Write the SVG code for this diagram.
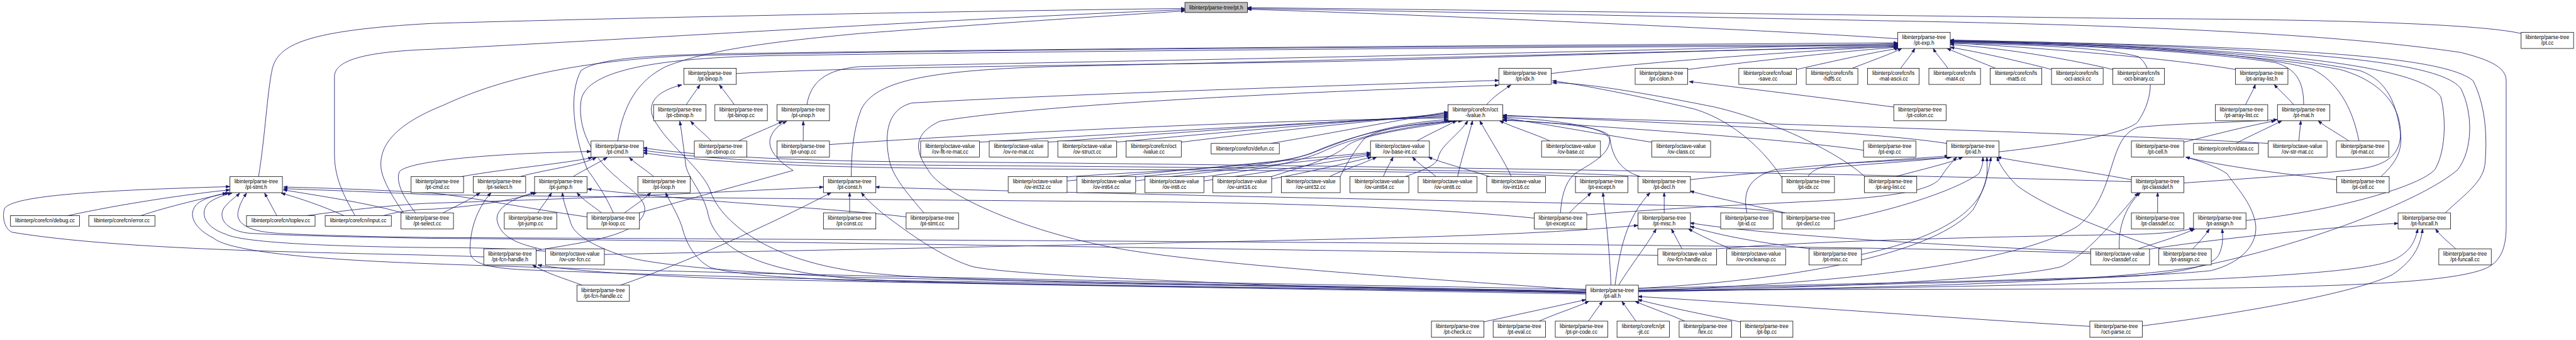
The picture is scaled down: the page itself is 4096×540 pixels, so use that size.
<svg xmlns="http://www.w3.org/2000/svg" width="4096" height="540" viewBox="0 0 4096 540">
<style>
.n rect{fill:#fff;stroke:#000;stroke-width:1.2}
.g rect{fill:#bfbfbf}
text{font-family:"Liberation Sans",Arial,Helvetica,sans-serif;font-size:13px;text-anchor:middle;fill:#000}
.e path{fill:none;stroke:#191970;stroke-width:1.3;marker-end:url(#a)}
</style>
<defs>
<marker id="a" markerUnits="userSpaceOnUse" markerWidth="11" markerHeight="8" refX="10" refY="4" orient="auto" viewBox="0 0 11 8"><path d="M0,0.5 L10,4 L0,7.5 z" fill="#191970" stroke="#191970" stroke-width="1"/></marker>
</defs>
<rect width="4096" height="540" fill="#fff"/>
<g transform="scale(0.6415)">
<g id="edges" class="e">
<path d="M641,437 C658,330 662,230 675,170 C690,110 760,75 1070,58 C1700,40 2500,26 2937,21"/>
<path d="M880,534 C850,480 829,440 829,380 L829,190 C829,150 900,128 1070,122 C1600,95 2400,45 2937,24"/>
<path d="M1531,349 C1545,260 1580,200 1650,165 C1760,120 1950,100 2130,83 C2500,55 2800,36 2937,27"/>
<path d="M4704,96 C4400,75 3500,35 3092,23"/>
<path d="M6249,83 C6150,60 5800,48 5300,46 C4500,36 3600,24 3092,19"/>
<path d="M4060,718 C4700,716 5100,716 5300,715 C5800,712 6100,700 6170,660 C6205,640 6212,600 6212,560 L6212,200 C6212,170 6180,150 6100,130 C5800,85 5300,62 4700,52 C4000,38 3400,26 3092,21"/>
<path d="M1824,182 C2200,162 3000,160 3400,150 C3900,136 4400,122 4704,112"/>
<path d="M2000,259 C2010,200 2050,172 2130,165 C2700,152 3500,140 4704,108"/>
<path d="M3845,182 C4100,150 4500,125 4704,114"/>
<path d="M4183,172 C4400,145 4600,124 4704,117"/>
<path d="M4453,172 C4550,150 4650,128 4706,120"/>
<path d="M4591,169 C4640,150 4690,132 4714,120"/>
<path d="M4711,169 C4725,150 4738,135 4746,120"/>
<path d="M4828,169 C4815,150 4800,135 4792,120"/>
<path d="M4946,169 C4900,150 4850,130 4826,120"/>
<path d="M5085,172 C5000,150 4900,128 4834,117"/>
<path d="M5237,172 C5100,140 4950,118 4834,110"/>
<path d="M5541,172 C5350,140 5000,115 4834,106"/>
<path d="M5710,259 C5710,200 5690,170 5640,155 C5450,125 5100,110 4834,104"/>
<path d="M5847,349 C5830,260 5790,200 5730,170 C5550,125 5200,108 4834,102"/>
<path d="M6061,527 C6110,480 6158,450 6160,400 C6165,330 6160,260 6130,200 C6060,140 5700,115 4834,100"/>
<path d="M5566,546 C5800,520 6000,460 6035,420 C6060,380 6065,300 6050,240 C6000,160 5600,115 4834,101"/>
<path d="M4060,722 C4700,712 5200,700 5450,660 C5700,610 6000,500 6092,420 C6130,370 6130,280 6100,220 C6050,150 5700,118 4834,99"/>
<path d="M5902,437 C5930,410 5957,380 5950,330 C5940,260 5920,200 5850,175 C5600,125 5200,108 4834,103"/>
<path d="M4954,376 C5100,360 5280,330 5300,300 C5340,240 5340,170 5300,140 C5200,115 5000,110 4834,107"/>
<path d="M2110,437 C2110,380 2115,320 2135,270 C2170,200 2300,175 2600,165 C3300,150 4200,125 4704,116"/>
<path d="M1000,527 C975,490 950,450 945,420 C935,350 1000,300 1100,260 C1250,190 1450,150 1700,138 C2500,120 3800,115 4704,110"/>
<path d="M1520,527 C1500,480 1470,440 1456,420 C1420,330 1410,230 1440,175 C1480,145 1600,137 1800,133 C2600,120 3800,112 4704,106"/>
<path d="M1328,620 C1450,600 1560,585 1590,540 C1620,500 1560,470 1530,440 C1480,400 1430,330 1440,250 C1450,180 1600,145 1900,138 C2800,124 3900,116 4704,113"/>
<path d="M1701,259 C1710,245 1725,225 1735,210"/>
<path d="M1820,259 C1810,245 1795,225 1783,210"/>
<path d="M3931,724 C3400,705 2400,700 2200,680 C1900,660 1780,540 1760,470 C1740,420 1660,360 1630,310 C1600,270 1610,230 1690,210"/>
<path d="M3931,726 C3400,712 2400,706 2150,692 C1850,675 1770,600 1755,530 C1745,480 1705,440 1700,410 C1695,370 1690,330 1685,300"/>
<path d="M1831,349 C1870,330 1910,315 1940,300"/>
<path d="M1991,349 L1991,300"/>
<path d="M1584,527 L1966,422 C1930,400 1900,370 1910,340 C1918,320 1930,310 1950,300"/>
<path d="M1763,349 C1745,330 1725,315 1712,300"/>
<path d="M1145,437 C1250,418 1400,405 1468,390"/>
<path d="M1290,437 C1350,420 1440,410 1478,390"/>
<path d="M1421,437 C1440,425 1480,405 1505,390"/>
<path d="M1620,437 C1600,420 1575,405 1560,390"/>
<path d="M3910,437 C3600,420 2500,420 2200,415 C1900,410 1700,395 1594,378"/>
<path d="M4065,437 C3800,418 2600,412 2200,408 C1900,404 1700,388 1594,372"/>
<path d="M5283,450 C4700,430 3000,405 2200,400 C1900,396 1700,382 1594,366"/>
<path d="M1030,527 C1000,490 980,450 990,425 C1010,400 1200,380 1465,375"/>
<path d="M168,534 C300,505 470,480 570,470"/>
<path d="M349,534 C420,510 510,490 568,477"/>
<path d="M686,534 L656,478"/>
<path d="M853,534 C800,510 740,490 697,478"/>
<path d="M998,527 C900,500 790,485 702,470"/>
<path d="M1199,636 C1150,634 1100,633 1070,632 C800,625 300,620 30,575 C8,565 5,530 12,515 C40,480 300,470 570,462"/>
<path d="M1352,622 C1250,614 1150,613 1070,613 C800,610 600,600 560,580 C500,560 495,520 520,500 C540,487 560,482 575,478"/>
<path d="M3931,716 C3000,700 1800,680 1070,653 C700,640 560,615 530,590 C470,560 465,520 495,500 C515,488 540,482 562,478"/>
<path d="M4109,632 C3200,620 1800,595 1070,590 C800,586 650,580 614,577 C560,570 540,540 555,515 C570,495 585,488 594,478"/>
<path d="M5182,628 C4700,605 2500,595 1070,588 C850,585 720,580 682,577 C610,572 585,550 590,525 C594,505 603,490 611,478"/>
<path d="M1455,537 C1300,515 1150,485 1070,478 C900,468 780,465 703,463"/>
<path d="M3803,540 C3600,520 3300,505 2900,500 C2200,495 1300,485 1070,482 C900,474 780,470 703,467"/>
<path d="M1098,527 C1130,510 1165,495 1190,477"/>
<path d="M3931,720 C3000,705 2300,697 2130,693 C1800,685 1500,676 1300,668 C1200,663 1165,650 1165,620 C1165,570 1180,520 1217,477"/>
<path d="M1333,527 C1343,510 1357,495 1367,477"/>
<path d="M1491,527 C1470,510 1445,495 1430,477"/>
<path d="M3931,722 C3000,708 2300,690 2130,687 C1900,678 1620,660 1540,632 C1480,612 1425,585 1415,553 C1405,520 1396,500 1394,477"/>
<path d="M2246,537 C2150,525 2000,515 1800,500 C1650,488 1520,475 1456,468"/>
<path d="M1342,617 C1290,605 1240,590 1232,545 C1228,515 1270,492 1325,476"/>
<path d="M950,534 C1000,520 1040,518 1070,518 C1200,510 1290,490 1330,477"/>
<path d="M1548,527 C1570,510 1595,495 1613,477"/>
<path d="M3931,724 C3000,712 2300,700 2130,695 C1950,688 1820,680 1760,662 C1720,640 1700,600 1690,560 C1675,520 1660,500 1650,477"/>
<path d="M760,534 C860,520 1000,505 1070,503 C1500,490 1800,475 2041,463"/>
<path d="M1538,706 C1700,650 1900,560 2060,477"/>
<path d="M2106,527 L2106,477"/>
<path d="M3931,724 C3600,718 3300,712 3190,707 C2900,695 2500,680 2410,660 C2330,635 2250,575 2190,530 C2160,505 2145,490 2135,477"/>
<path d="M4420,527 C4350,515 4250,513 4200,510 C3800,500 3200,490 2900,482 C2600,475 2300,468 2170,463"/>
<path d="M1443,706 C1400,690 1350,675 1320,656"/>
<path d="M3931,728 C3200,715 2200,700 1800,690 C1550,680 1420,670 1333,656"/>
<path d="M3677,797 C3780,775 3870,755 3931,742"/>
<path d="M3815,795 C3860,775 3910,760 3938,746"/>
<path d="M3937,795 L3972,746"/>
<path d="M4055,795 L4020,746"/>
<path d="M4176,795 C4130,775 4085,760 4053,746"/>
<path d="M4314,797 C4220,778 4130,760 4060,742"/>
<path d="M5180,808 C4800,785 4400,755 4060,734"/>
<path d="M5308,807 C5600,770 5850,720 5930,680 C5990,640 6000,600 6005,567"/>
<path d="M3993,706 C3990,620 3980,540 3973,477"/>
<path d="M4003,706 C4015,620 4030,540 4090,477"/>
<path d="M4012,706 C4040,660 4080,610 4105,567"/>
<path d="M4125,527 L4125,477"/>
<path d="M4169,616 L4143,567"/>
<path d="M4488,616 C4350,600 4250,580 4189,560"/>
<path d="M1497,630 C2000,620 3000,600 3400,590 C3800,580 3950,568 4060,558"/>
<path d="M5182,624 C4800,605 4400,585 4189,552"/>
<path d="M4290,616 C4250,600 4220,585 4185,567"/>
<path d="M4425,527 C4330,505 4250,490 4189,473"/>
<path d="M3890,527 C3905,510 3925,495 3944,477"/>
<path d="M4189,445 C4400,420 4700,405 4835,389"/>
<path d="M4065,437 C4010,420 3995,380 3990,340 C3985,310 3800,300 3725,298"/>
<path d="M4330,527 C4320,480 4330,440 4400,420 C4600,400 4760,392 4830,386"/>
<path d="M4482,437 C4490,420 4520,410 4560,405 C4700,398 4800,392 4838,389"/>
<path d="M4700,437 C4760,420 4830,405 4865,389"/>
<path d="M4614,630 C4850,580 4920,500 4925,430 C4926,410 4925,400 4925,389"/>
<path d="M3932,532 C4100,518 4300,508 4500,498 C4700,488 4790,470 4810,440 C4825,415 4840,400 4850,389"/>
<path d="M5283,445 C5150,420 5000,400 4950,389"/>
<path d="M4060,714 C4500,690 4800,620 4890,520 C4920,470 4930,420 4935,389"/>
<path d="M4547,548 C4700,520 4850,470 4905,430 C4915,410 4915,400 4915,389"/>
<path d="M5355,616 C5250,580 5080,520 5000,460 C4970,430 4955,405 4950,389"/>
<path d="M4825,355 C4600,320 4000,300 3725,285"/>
<path d="M3685,259 C3700,240 3725,225 3745,210"/>
<path d="M2428,352 C2800,330 3300,300 3589,289"/>
<path d="M2598,352 C2900,330 3300,300 3589,286"/>
<path d="M2767,352 C3000,330 3350,300 3589,283"/>
<path d="M2928,352 C3100,330 3400,300 3589,280"/>
<path d="M3150,355 C3300,330 3450,300 3589,277"/>
<path d="M2055,358 C2300,340 3000,300 3589,292"/>
<path d="M3512,349 C3545,330 3580,315 3610,299"/>
<path d="M3842,349 C3800,330 3750,315 3717,299"/>
<path d="M4094,352 C3950,330 3820,305 3725,292"/>
<path d="M2644,438 C2900,420 3150,415 3250,380 C3350,340 3450,305 3589,296"/>
<path d="M2813,438 C3000,422 3180,410 3260,375 C3350,335 3470,308 3592,299"/>
<path d="M2983,438 C3120,420 3230,400 3290,370 C3380,330 3520,310 3600,299"/>
<path d="M3152,437 C3220,415 3300,395 3340,360 C3380,330 3540,312 3612,299"/>
<path d="M3322,437 C3340,400 3360,370 3380,345 C3420,310 3560,305 3625,299"/>
<path d="M3484,437 C3530,420 3560,410 3565,390 C3570,360 3620,330 3638,299"/>
<path d="M3613,437 C3620,400 3640,340 3650,299"/>
<path d="M3746,437 C3730,400 3690,340 3668,299"/>
<path d="M2644,448 C2900,425 3200,395 3397,378"/>
<path d="M2813,448 C3000,425 3250,398 3397,381"/>
<path d="M2983,448 C3150,425 3300,400 3397,384"/>
<path d="M3152,443 C3250,425 3340,403 3400,389"/>
<path d="M3296,437 C3330,420 3380,405 3412,389"/>
<path d="M3429,437 C3435,420 3445,405 3453,389"/>
<path d="M3559,437 C3540,420 3515,405 3501,389"/>
<path d="M3692,437 C3640,420 3580,405 3540,389"/>
<path d="M4619,372 C4400,340 3900,310 3725,296"/>
<path d="M3868,527 C3870,490 3878,455 3900,433 C3930,410 3985,390 3990,350 C3993,320 3900,300 3725,290"/>
<path d="M5622,355 C5200,330 4200,300 3725,287"/>
<path d="M4694,265 C4500,240 4300,215 4187,202"/>
<path d="M2290,527 C2250,480 2215,440 2205,400 C2190,330 2200,270 2260,255 C2600,235 3300,212 3715,199"/>
<path d="M3931,718 C3600,695 3050,660 2800,620 C2550,580 2330,480 2300,420 C2265,370 2265,330 2330,300 C2600,255 3300,225 3715,211"/>
<path d="M4420,445 C4380,380 4300,300 4200,270 C4050,235 3920,210 3848,200"/>
<path d="M4622,437 C4560,380 4400,300 4250,265 C4050,225 3920,205 3848,205"/>
<path d="M5566,259 C5575,240 5585,225 5590,209"/>
<path d="M5685,259 C5670,240 5650,225 5637,209"/>
<path d="M5413,352 C5500,330 5580,310 5640,299"/>
<path d="M5542,355 C5580,335 5625,315 5656,299"/>
<path d="M5698,349 L5703,299"/>
<path d="M5822,349 C5795,330 5765,315 5746,299"/>
<path d="M4060,720 C4600,700 5000,650 5150,560 C5250,480 5220,340 5300,315 C5400,305 5550,303 5645,296"/>
<path d="M5792,445 C5650,430 5500,410 5418,389"/>
<path d="M4060,714 C4700,700 5300,690 5480,670 C5560,650 5600,600 5590,550 C5580,500 5540,460 5520,430 C5490,410 5450,398 5418,389"/>
<path d="M5348,527 L5348,477"/>
<path d="M5253,616 C5250,560 5270,510 5305,477"/>
<path d="M4060,720 C4500,715 5000,690 5110,660 C5170,630 5230,560 5300,477"/>
<path d="M5413,453 C5600,440 5780,428 5850,418 C5920,408 5950,380 5950,330 C5950,260 5900,200 5800,172 C5550,125 5100,108 4834,104"/>
<path d="M5435,616 C5450,600 5465,585 5476,567"/>
<path d="M5300,616 C5350,600 5400,585 5440,567"/>
<path d="M4060,718 C4600,705 5100,695 5300,683 C5450,670 5490,650 5500,630 C5510,610 5510,590 5508,567"/>
<path d="M4255,616 C4500,595 5000,585 5300,580 C5370,578 5410,572 5437,565"/>
<path d="M6087,616 C6070,600 6050,585 6037,567"/>
<path d="M5327,617 C5500,590 5800,560 5944,553"/>
<path d="M4060,722 C4700,712 5200,705 5500,690 C5800,675 5900,660 5940,640 C5975,620 5985,600 5993,567"/>
</g>
<g id="pt-h" class="n g"><rect x="2937" y="6" width="155" height="25"/><text x="3014.5" y="23">libinterp/parse-tree/pt.h</text></g>
<g id="pt-exp-h" class="n"><rect x="4704" y="80" width="130" height="40"/><text x="4769" y="97">libinterp/parse-tree</text><text x="4769" y="111">/pt-exp.h</text></g>
<g id="pt-cc" class="n"><rect x="6249" y="80" width="130" height="40"/><text x="6314" y="97">libinterp/parse-tree</text><text x="6314" y="111">/pt.cc</text></g>
<g id="pt-binop-h" class="n"><rect x="1695" y="169" width="130" height="40"/><text x="1760" y="186">libinterp/parse-tree</text><text x="1760" y="200">/pt-binop.h</text></g>
<g id="pt-idx-h" class="n"><rect x="3715" y="169" width="130" height="40"/><text x="3780" y="186">libinterp/parse-tree</text><text x="3780" y="200">/pt-idx.h</text></g>
<g id="pt-colon-h" class="n"><rect x="4053" y="169" width="130" height="40"/><text x="4118" y="186">libinterp/parse-tree</text><text x="4118" y="200">/pt-colon.h</text></g>
<g id="load-save-cc" class="n"><rect x="4310" y="169" width="143" height="40"/><text x="4381.5" y="186">libinterp/corefcn/load</text><text x="4381.5" y="200">-save.cc</text></g>
<g id="ls-hdf5-cc" class="n"><rect x="4477" y="169" width="128" height="40"/><text x="4541" y="186">libinterp/corefcn/ls</text><text x="4541" y="200">-hdf5.cc</text></g>
<g id="ls-mat-ascii-cc" class="n"><rect x="4629" y="169" width="128" height="40"/><text x="4693" y="186">libinterp/corefcn/ls</text><text x="4693" y="200">-mat-ascii.cc</text></g>
<g id="ls-mat4-cc" class="n"><rect x="4781" y="169" width="128" height="40"/><text x="4845" y="186">libinterp/corefcn/ls</text><text x="4845" y="200">-mat4.cc</text></g>
<g id="ls-mat5-cc" class="n"><rect x="4933" y="169" width="128" height="40"/><text x="4997" y="186">libinterp/corefcn/ls</text><text x="4997" y="200">-mat5.cc</text></g>
<g id="ls-oct-ascii-cc" class="n"><rect x="5085" y="169" width="128" height="40"/><text x="5149" y="186">libinterp/corefcn/ls</text><text x="5149" y="200">-oct-ascii.cc</text></g>
<g id="ls-oct-binary-cc" class="n"><rect x="5237" y="169" width="128" height="40"/><text x="5301" y="186">libinterp/corefcn/ls</text><text x="5301" y="200">-oct-binary.cc</text></g>
<g id="pt-array-list-h" class="n"><rect x="5541" y="169" width="130" height="40"/><text x="5606" y="186">libinterp/parse-tree</text><text x="5606" y="200">/pt-array-list.h</text></g>
<g id="pt-cbinop-h" class="n"><rect x="1620" y="259" width="130" height="40"/><text x="1685" y="276">libinterp/parse-tree</text><text x="1685" y="290">/pt-cbinop.h</text></g>
<g id="pt-binop-cc" class="n"><rect x="1772" y="259" width="130" height="40"/><text x="1837" y="276">libinterp/parse-tree</text><text x="1837" y="290">/pt-binop.cc</text></g>
<g id="pt-unop-h" class="n"><rect x="1926" y="259" width="130" height="40"/><text x="1991" y="276">libinterp/parse-tree</text><text x="1991" y="290">/pt-unop.h</text></g>
<g id="oct-lvalue-h" class="n"><rect x="3589" y="259" width="136" height="40"/><text x="3657" y="276">libinterp/corefcn/oct</text><text x="3657" y="290">-lvalue.h</text></g>
<g id="pt-colon-cc" class="n"><rect x="4694" y="259" width="130" height="40"/><text x="4759" y="276">libinterp/parse-tree</text><text x="4759" y="290">/pt-colon.cc</text></g>
<g id="pt-array-list-cc" class="n"><rect x="5491" y="259" width="130" height="40"/><text x="5556" y="276">libinterp/parse-tree</text><text x="5556" y="290">/pt-array-list.cc</text></g>
<g id="pt-mat-h" class="n"><rect x="5645" y="259" width="130" height="40"/><text x="5710" y="276">libinterp/parse-tree</text><text x="5710" y="290">/pt-mat.h</text></g>
<g id="pt-cmd-h" class="n"><rect x="1465" y="349" width="130" height="40"/><text x="1530" y="366">libinterp/parse-tree</text><text x="1530" y="380">/pt-cmd.h</text></g>
<g id="pt-cbinop-cc" class="n"><rect x="1721" y="349" width="130" height="40"/><text x="1786" y="366">libinterp/parse-tree</text><text x="1786" y="380">/pt-cbinop.cc</text></g>
<g id="pt-unop-cc" class="n"><rect x="1926" y="349" width="130" height="40"/><text x="1991" y="366">libinterp/parse-tree</text><text x="1991" y="380">/pt-unop.cc</text></g>
<g id="ov-flt-re-mat-cc" class="n"><rect x="2282" y="349" width="146" height="40"/><text x="2355" y="366">libinterp/octave-value</text><text x="2355" y="380">/ov-flt-re-mat.cc</text></g>
<g id="ov-re-mat-cc" class="n"><rect x="2452" y="349" width="146" height="40"/><text x="2525" y="366">libinterp/octave-value</text><text x="2525" y="380">/ov-re-mat.cc</text></g>
<g id="ov-struct-cc" class="n"><rect x="2622" y="349" width="146" height="40"/><text x="2695" y="366">libinterp/octave-value</text><text x="2695" y="380">/ov-struct.cc</text></g>
<g id="oct-lvalue-cc" class="n"><rect x="2791" y="349" width="137" height="40"/><text x="2859.5" y="366">libinterp/corefcn/oct</text><text x="2859.5" y="380">-lvalue.cc</text></g>
<g id="defun-cc" class="n"><rect x="3002" y="355" width="169" height="26"/><text x="3086.5" y="372">libinterp/corefcn/defun.cc</text></g>
<g id="ov-base-int-cc" class="n"><rect x="3397" y="349" width="146" height="40"/><text x="3470" y="366">libinterp/octave-value</text><text x="3470" y="380">/ov-base-int.cc</text></g>
<g id="ov-base-cc" class="n"><rect x="3821" y="349" width="146" height="40"/><text x="3894" y="366">libinterp/octave-value</text><text x="3894" y="380">/ov-base.cc</text></g>
<g id="ov-class-cc" class="n"><rect x="4094" y="349" width="146" height="40"/><text x="4167" y="366">libinterp/octave-value</text><text x="4167" y="380">/ov-class.cc</text></g>
<g id="pt-exp-cc" class="n"><rect x="4619" y="349" width="130" height="40"/><text x="4684" y="366">libinterp/parse-tree</text><text x="4684" y="380">/pt-exp.cc</text></g>
<g id="pt-id-h" class="n"><rect x="4825" y="349" width="130" height="40"/><text x="4890" y="366">libinterp/parse-tree</text><text x="4890" y="380">/pt-id.h</text></g>
<g id="pt-cell-h" class="n"><rect x="5283" y="349" width="130" height="40"/><text x="5348" y="366">libinterp/parse-tree</text><text x="5348" y="380">/pt-cell.h</text></g>
<g id="data-cc" class="n"><rect x="5437" y="355" width="161" height="26"/><text x="5517.5" y="372">libinterp/corefcn/data.cc</text></g>
<g id="ov-str-mat-cc" class="n"><rect x="5622" y="349" width="146" height="40"/><text x="5695" y="366">libinterp/octave-value</text><text x="5695" y="380">/ov-str-mat.cc</text></g>
<g id="pt-mat-cc" class="n"><rect x="5791" y="349" width="130" height="40"/><text x="5856" y="366">libinterp/parse-tree</text><text x="5856" y="380">/pt-mat.cc</text></g>
<g id="pt-stmt-h" class="n"><rect x="570" y="437" width="130" height="40"/><text x="635" y="454">libinterp/parse-tree</text><text x="635" y="468">/pt-stmt.h</text></g>
<g id="pt-cmd-cc" class="n"><rect x="1019" y="437" width="130" height="40"/><text x="1084" y="454">libinterp/parse-tree</text><text x="1084" y="468">/pt-cmd.cc</text></g>
<g id="pt-select-h" class="n"><rect x="1173" y="437" width="130" height="40"/><text x="1238" y="454">libinterp/parse-tree</text><text x="1238" y="468">/pt-select.h</text></g>
<g id="pt-jump-h" class="n"><rect x="1325" y="437" width="130" height="40"/><text x="1390" y="454">libinterp/parse-tree</text><text x="1390" y="468">/pt-jump.h</text></g>
<g id="pt-loop-h" class="n"><rect x="1581" y="437" width="130" height="40"/><text x="1646" y="454">libinterp/parse-tree</text><text x="1646" y="468">/pt-loop.h</text></g>
<g id="pt-const-h" class="n"><rect x="2041" y="437" width="130" height="40"/><text x="2106" y="454">libinterp/parse-tree</text><text x="2106" y="468">/pt-const.h</text></g>
<g id="ov-int32-cc" class="n"><rect x="2499" y="437" width="146" height="40"/><text x="2572" y="454">libinterp/octave-value</text><text x="2572" y="468">/ov-int32.cc</text></g>
<g id="ov-int64-cc" class="n"><rect x="2669" y="437" width="146" height="40"/><text x="2742" y="454">libinterp/octave-value</text><text x="2742" y="468">/ov-int64.cc</text></g>
<g id="ov-int8-cc" class="n"><rect x="2838" y="437" width="146" height="40"/><text x="2911" y="454">libinterp/octave-value</text><text x="2911" y="468">/ov-int8.cc</text></g>
<g id="ov-uint16-cc" class="n"><rect x="3006" y="437" width="146" height="40"/><text x="3079" y="454">libinterp/octave-value</text><text x="3079" y="468">/ov-uint16.cc</text></g>
<g id="ov-uint32-cc" class="n"><rect x="3176" y="437" width="146" height="40"/><text x="3249" y="454">libinterp/octave-value</text><text x="3249" y="468">/ov-uint32.cc</text></g>
<g id="ov-uint64-cc" class="n"><rect x="3346" y="437" width="146" height="40"/><text x="3419" y="454">libinterp/octave-value</text><text x="3419" y="468">/ov-uint64.cc</text></g>
<g id="ov-uint8-cc" class="n"><rect x="3515" y="437" width="146" height="40"/><text x="3588" y="454">libinterp/octave-value</text><text x="3588" y="468">/ov-uint8.cc</text></g>
<g id="ov-int16-cc" class="n"><rect x="3685" y="437" width="146" height="40"/><text x="3758" y="454">libinterp/octave-value</text><text x="3758" y="468">/ov-int16.cc</text></g>
<g id="pt-except-h" class="n"><rect x="3905" y="437" width="130" height="40"/><text x="3970" y="454">libinterp/parse-tree</text><text x="3970" y="468">/pt-except.h</text></g>
<g id="pt-decl-h" class="n"><rect x="4060" y="437" width="130" height="40"/><text x="4125" y="454">libinterp/parse-tree</text><text x="4125" y="468">/pt-decl.h</text></g>
<g id="pt-idx-cc" class="n"><rect x="4417" y="437" width="130" height="40"/><text x="4482" y="454">libinterp/parse-tree</text><text x="4482" y="468">/pt-idx.cc</text></g>
<g id="pt-arg-list-cc" class="n"><rect x="4621" y="437" width="130" height="40"/><text x="4686" y="454">libinterp/parse-tree</text><text x="4686" y="468">/pt-arg-list.cc</text></g>
<g id="pt-classdef-h" class="n"><rect x="5283" y="437" width="130" height="40"/><text x="5348" y="454">libinterp/parse-tree</text><text x="5348" y="468">/pt-classdef.h</text></g>
<g id="pt-cell-cc" class="n"><rect x="5792" y="437" width="130" height="40"/><text x="5857" y="454">libinterp/parse-tree</text><text x="5857" y="468">/pt-cell.cc</text></g>
<g id="debug-cc" class="n"><rect x="26" y="534" width="171" height="26"/><text x="111.5" y="551">libinterp/corefcn/debug.cc</text></g>
<g id="error-cc" class="n"><rect x="220" y="534" width="164" height="26"/><text x="302" y="551">libinterp/corefcn/error.cc</text></g>
<g id="toplev-cc" class="n"><rect x="611" y="534" width="170" height="26"/><text x="696" y="551">libinterp/corefcn/toplev.cc</text></g>
<g id="input-cc" class="n"><rect x="806" y="534" width="164" height="26"/><text x="888" y="551">libinterp/corefcn/input.cc</text></g>
<g id="pt-select-cc" class="n"><rect x="994" y="527" width="130" height="40"/><text x="1059" y="544">libinterp/parse-tree</text><text x="1059" y="558">/pt-select.cc</text></g>
<g id="pt-jump-cc" class="n"><rect x="1250" y="527" width="130" height="40"/><text x="1315" y="544">libinterp/parse-tree</text><text x="1315" y="558">/pt-jump.cc</text></g>
<g id="pt-loop-cc" class="n"><rect x="1455" y="527" width="130" height="40"/><text x="1520" y="544">libinterp/parse-tree</text><text x="1520" y="558">/pt-loop.cc</text></g>
<g id="pt-const-cc" class="n"><rect x="2041" y="527" width="130" height="40"/><text x="2106" y="544">libinterp/parse-tree</text><text x="2106" y="558">/pt-const.cc</text></g>
<g id="pt-stmt-cc" class="n"><rect x="2246" y="527" width="130" height="40"/><text x="2311" y="544">libinterp/parse-tree</text><text x="2311" y="558">/pt-stmt.cc</text></g>
<g id="pt-except-cc" class="n"><rect x="3803" y="527" width="130" height="40"/><text x="3868" y="544">libinterp/parse-tree</text><text x="3868" y="558">/pt-except.cc</text></g>
<g id="pt-misc-h" class="n"><rect x="4060" y="527" width="130" height="40"/><text x="4125" y="544">libinterp/parse-tree</text><text x="4125" y="558">/pt-misc.h</text></g>
<g id="pt-id-cc" class="n"><rect x="4265" y="527" width="130" height="40"/><text x="4330" y="544">libinterp/parse-tree</text><text x="4330" y="558">/pt-id.cc</text></g>
<g id="pt-decl-cc" class="n"><rect x="4417" y="527" width="130" height="40"/><text x="4482" y="544">libinterp/parse-tree</text><text x="4482" y="558">/pt-decl.cc</text></g>
<g id="pt-classdef-cc" class="n"><rect x="5283" y="527" width="130" height="40"/><text x="5348" y="544">libinterp/parse-tree</text><text x="5348" y="558">/pt-classdef.cc</text></g>
<g id="pt-assign-h" class="n"><rect x="5437" y="527" width="130" height="40"/><text x="5502" y="544">libinterp/parse-tree</text><text x="5502" y="558">/pt-assign.h</text></g>
<g id="pt-funcall-h" class="n"><rect x="5944" y="527" width="130" height="40"/><text x="6009" y="544">libinterp/parse-tree</text><text x="6009" y="558">/pt-funcall.h</text></g>
<g id="pt-fcn-handle-h" class="n"><rect x="1199" y="616" width="130" height="40"/><text x="1264" y="633">libinterp/parse-tree</text><text x="1264" y="647">/pt-fcn-handle.h</text></g>
<g id="ov-usr-fcn-cc" class="n"><rect x="1352" y="616" width="146" height="40"/><text x="1425" y="633">libinterp/octave-value</text><text x="1425" y="647">/ov-usr-fcn.cc</text></g>
<g id="ov-fcn-handle-cc" class="n"><rect x="4109" y="616" width="146" height="40"/><text x="4182" y="633">libinterp/octave-value</text><text x="4182" y="647">/ov-fcn-handle.cc</text></g>
<g id="ov-oncleanup-cc" class="n"><rect x="4280" y="616" width="146" height="40"/><text x="4353" y="633">libinterp/octave-value</text><text x="4353" y="647">/ov-oncleanup.cc</text></g>
<g id="pt-misc-cc" class="n"><rect x="4484" y="616" width="130" height="40"/><text x="4549" y="633">libinterp/parse-tree</text><text x="4549" y="647">/pt-misc.cc</text></g>
<g id="ov-classdef-cc" class="n"><rect x="5182" y="616" width="146" height="40"/><text x="5255" y="633">libinterp/octave-value</text><text x="5255" y="647">/ov-classdef.cc</text></g>
<g id="pt-assign-cc" class="n"><rect x="5351" y="616" width="130" height="40"/><text x="5416" y="633">libinterp/parse-tree</text><text x="5416" y="647">/pt-assign.cc</text></g>
<g id="pt-funcall-cc" class="n"><rect x="6045" y="616" width="130" height="40"/><text x="6110" y="633">libinterp/parse-tree</text><text x="6110" y="647">/pt-funcall.cc</text></g>
<g id="pt-fcn-handle-cc" class="n"><rect x="1430" y="706" width="130" height="40"/><text x="1495" y="723">libinterp/parse-tree</text><text x="1495" y="737">/pt-fcn-handle.cc</text></g>
<g id="pt-all-h" class="n"><rect x="3931" y="706" width="130" height="40"/><text x="3996" y="723">libinterp/parse-tree</text><text x="3996" y="737">/pt-all.h</text></g>
<g id="pt-check-cc" class="n"><rect x="3548" y="795" width="130" height="40"/><text x="3613" y="812">libinterp/parse-tree</text><text x="3613" y="826">/pt-check.cc</text></g>
<g id="pt-eval-cc" class="n"><rect x="3701" y="795" width="130" height="40"/><text x="3766" y="812">libinterp/parse-tree</text><text x="3766" y="826">/pt-eval.cc</text></g>
<g id="pt-pr-code-cc" class="n"><rect x="3855" y="795" width="130" height="40"/><text x="3920" y="812">libinterp/parse-tree</text><text x="3920" y="826">/pt-pr-code.cc</text></g>
<g id="pt-jit-cc" class="n"><rect x="4008" y="795" width="130" height="40"/><text x="4073" y="812">libinterp/corefcn/pt</text><text x="4073" y="826">-jit.cc</text></g>
<g id="lex-cc" class="n"><rect x="4162" y="795" width="130" height="40"/><text x="4227" y="812">libinterp/parse-tree</text><text x="4227" y="826">/lex.cc</text></g>
<g id="pt-bp-cc" class="n"><rect x="4314" y="795" width="130" height="40"/><text x="4379" y="812">libinterp/parse-tree</text><text x="4379" y="826">/pt-bp.cc</text></g>
<g id="oct-parse-cc" class="n"><rect x="5180" y="795" width="130" height="40"/><text x="5245" y="812">libinterp/parse-tree</text><text x="5245" y="826">/oct-parse.cc</text></g>
</g>
</svg>
